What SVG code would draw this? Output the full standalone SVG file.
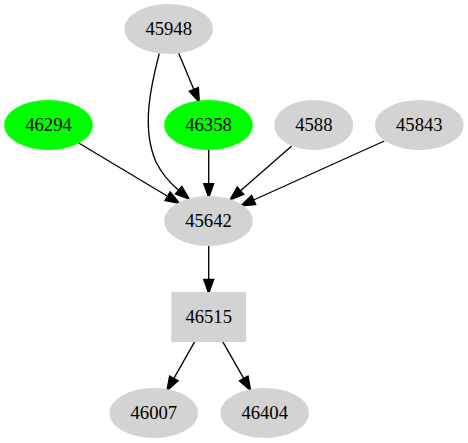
<svg xmlns="http://www.w3.org/2000/svg" width="468" height="443" viewBox="0 0 468 443">
<style>
.n ellipse, .n rect { fill: #d3d3d3; stroke: #d3d3d3; stroke-width: 1.33; }
.g ellipse { fill: #00ff00; stroke: #00ff00; }
.n text { font-family: "Liberation Serif", "Times New Roman", serif; font-size: 18.67px; text-anchor: middle; fill: #000; }
.e path { fill: none; stroke: #000; stroke-width: 1.33; }
</style>
<defs>
<marker id="ah" markerUnits="userSpaceOnUse" markerWidth="14" markerHeight="10" viewBox="0 0 13.33 9.34" refX="0" refY="4.67" orient="auto" overflow="visible">
<path d="M0,0 L13.33,4.67 L0,9.34 Z" fill="#000" stroke="#000" stroke-width="1.33"/>
</marker>
</defs>
<rect width="468" height="443" fill="#fff"/>
<g id="edges" class="e">
<path d="M178.7,53.3 L193.85,89.4" marker-end="url(#ah)"/>
<path d="M159.3,53.3 C151,85 141,128 156,162 C162,174 170,183 178.6,190.2" marker-end="url(#ah)"/>
<path d="M78.7,143 L167.6,196.2" marker-end="url(#ah)"/>
<path d="M208.7,149.3 L208.7,183.7" marker-end="url(#ah)"/>
<path d="M291.7,146 L240.5,190.75" marker-end="url(#ah)"/>
<path d="M384.3,141 L253.6,200" marker-end="url(#ah)"/>
<path d="M208.7,245.3 L208.7,279.4" marker-end="url(#ah)"/>
<path d="M194.7,341.7 L173.9,378.4" marker-end="url(#ah)"/>
<path d="M222.7,341.7 L243.7,378.45" marker-end="url(#ah)"/>
</g>
<g id="n45948" class="n"><ellipse cx="168.7" cy="29" rx="43.7" ry="24.3"/><text x="168.7" y="34.6">45948</text></g>
<g id="n46294" class="n g"><ellipse cx="48.5" cy="125" rx="43.7" ry="24.3"/><text x="48.5" y="130.6">46294</text></g>
<g id="n46358" class="n g"><ellipse cx="208.5" cy="125" rx="43.7" ry="24.3"/><text x="208.5" y="130.6">46358</text></g>
<g id="n4588" class="n"><ellipse cx="313.8" cy="125" rx="38.8" ry="24.3"/><text x="313.8" y="130.6">4588</text></g>
<g id="n45843" class="n"><ellipse cx="419.3" cy="125" rx="43.7" ry="24.3"/><text x="419.3" y="130.6">45843</text></g>
<g id="n45642" class="n"><ellipse cx="208.5" cy="221" rx="43.7" ry="24.3"/><text x="208.5" y="226.6">45642</text></g>
<g id="n46515" class="n"><rect x="172" y="292.7" width="73.3" height="48.7"/><text x="208.7" y="322.6">46515</text></g>
<g id="n46007" class="n"><ellipse cx="153.8" cy="413" rx="43.7" ry="24.3"/><text x="153.8" y="418.6">46007</text></g>
<g id="n46404" class="n"><ellipse cx="264.7" cy="413" rx="43.7" ry="24.3"/><text x="264.7" y="418.6">46404</text></g>
</svg>
